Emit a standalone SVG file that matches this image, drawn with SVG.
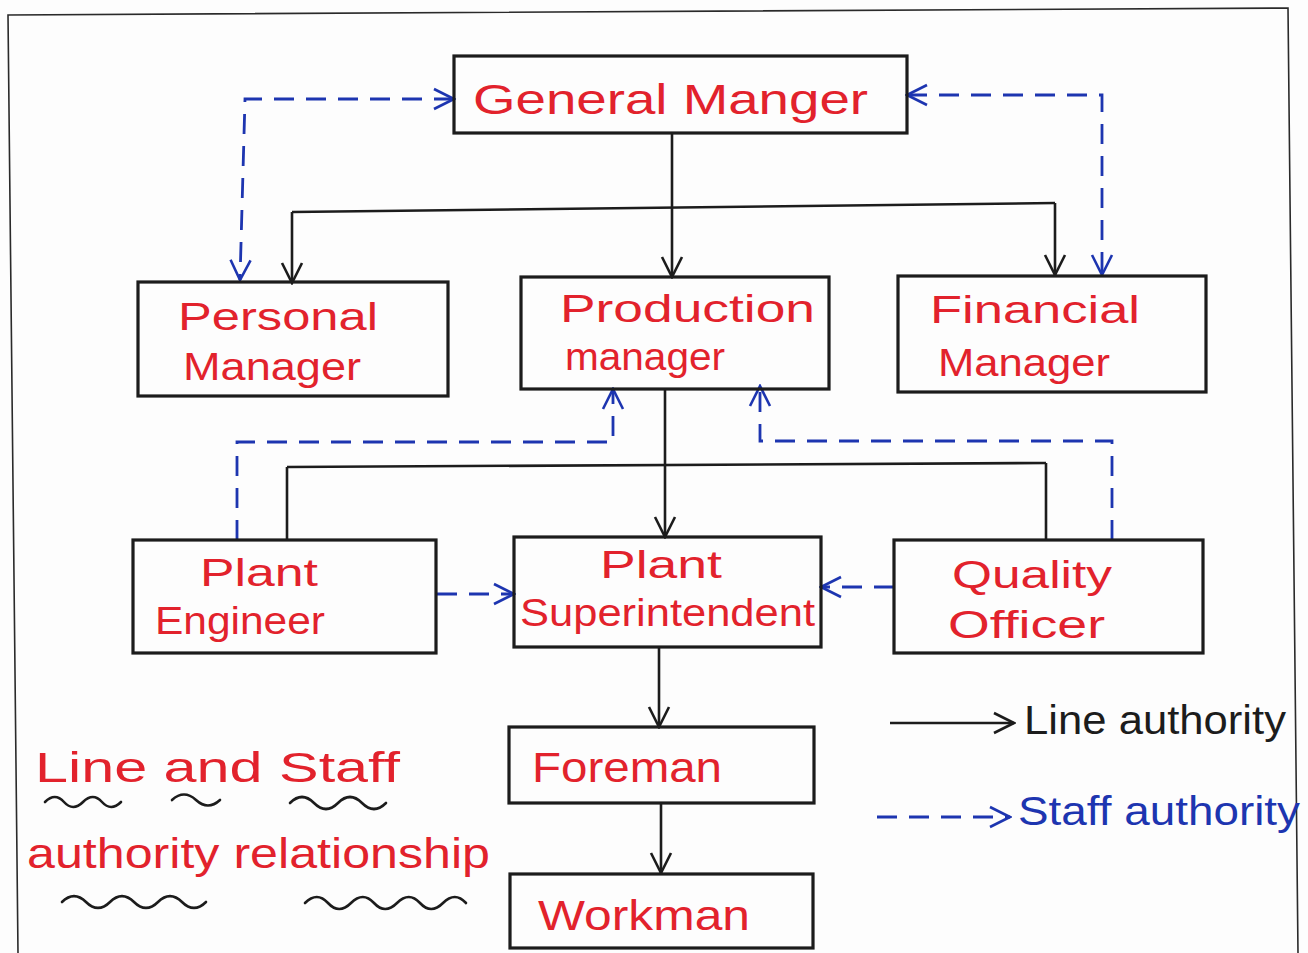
<svg xmlns="http://www.w3.org/2000/svg" width="1308" height="953" viewBox="0 0 1308 953">
  <style>
    .box { fill: none; stroke: #1c1c1c; stroke-width: 3.2; stroke-linejoin: miter; }
    .line { fill: none; stroke: #1c1c1c; stroke-width: 2.6; }
    .staff { fill: none; stroke: #1d35b0; stroke-width: 2.8; stroke-dasharray: 20 12; }
    .wave { fill: none; stroke: #1c1c1c; stroke-width: 2.6; stroke-linecap: round; }
    .lbl { font-family: "Liberation Sans", Arial, sans-serif; font-size: 42px; fill: #e2222c; }
    .sm { font-size: 38px; }
    .lgd { font-family: "Liberation Sans", Arial, sans-serif; font-size: 40px; }
  </style>
  <defs>
    <marker id="arrowLine" viewBox="0 0 12 12" refX="11" refY="6" markerWidth="24" markerHeight="24" orient="auto-start-reverse" markerUnits="userSpaceOnUse">
      <path d="M1,1 L11,6 L1,11" fill="none" stroke="#1c1c1c" stroke-width="1.3"/>
    </marker>
    <marker id="arrowStaff" viewBox="0 0 12 12" refX="11" refY="6" markerWidth="24" markerHeight="24" orient="auto-start-reverse" markerUnits="userSpaceOnUse">
      <path d="M1,1 L11,6 L1,11" fill="none" stroke="#1d35b0" stroke-width="1.3"/>
    </marker>
  </defs>

  <rect width="1308" height="953" fill="#fdfdfd"/>
  <!-- page frame -->
  <path d="M18,953 L8,15 L1288,8 L1298,953" fill="none" stroke="#2a2a2a" stroke-width="1.6"/>

  <!-- connectors -->
  <g id="connectors">
    <!-- line authority -->
    <path class="line" d="M672,133 V207"/>
    <path class="line" d="M292,212 L1055,203"/>
    <path class="line" d="M292,212 V283" marker-end="url(#arrowLine)"/>
    <path class="line" d="M672,207 V277" marker-end="url(#arrowLine)"/>
    <path class="line" d="M1055,203 V275" marker-end="url(#arrowLine)"/>
    <path class="line" d="M665,390 V464"/>
    <path class="line" d="M287,467 L1046,463"/>
    <path class="line" d="M287,467 V540"/>
    <path class="line" d="M665,464 V537" marker-end="url(#arrowLine)"/>
    <path class="line" d="M1046,463 V540"/>
    <path class="line" d="M659,647 V727" marker-end="url(#arrowLine)"/>
    <path class="line" d="M661,803 V873" marker-end="url(#arrowLine)"/>

    <!-- staff authority -->
    <path class="staff" d="M454,99 H245 L240,280" marker-start="url(#arrowStaff)" marker-end="url(#arrowStaff)"/>
    <path class="staff" d="M907,95 H1102 V275" marker-start="url(#arrowStaff)" marker-end="url(#arrowStaff)"/>
    <path class="staff" d="M237,540 V442 H613 V389" marker-end="url(#arrowStaff)"/>
    <path class="staff" d="M1112,540 V441 H760 V386" marker-end="url(#arrowStaff)"/>
    <path class="staff" d="M437,594 H514" marker-end="url(#arrowStaff)"/>
    <path class="staff" d="M894,587 H821" marker-end="url(#arrowStaff)"/>
  </g>

  <!-- nodes -->
  <g id="general-manager">
    <rect class="box" x="454" y="56" width="453" height="77"/>
    <text class="lbl" x="473" y="114" textLength="395" lengthAdjust="spacingAndGlyphs">General Manger</text>
  </g>
  <g id="personal-manager">
    <rect class="box" x="138" y="282" width="310" height="114"/>
    <text class="lbl sm" x="178" y="330" textLength="200" lengthAdjust="spacingAndGlyphs">Personal</text>
    <text class="lbl sm" x="183" y="380" textLength="178" lengthAdjust="spacingAndGlyphs">Manager</text>
  </g>
  <g id="production-manager">
    <rect class="box" x="521" y="277" width="308" height="112"/>
    <text class="lbl sm" x="560" y="322" textLength="255" lengthAdjust="spacingAndGlyphs">Production</text>
    <text class="lbl sm" x="565" y="370" textLength="160" lengthAdjust="spacingAndGlyphs">manager</text>
  </g>
  <g id="financial-manager">
    <rect class="box" x="898" y="276" width="308" height="116"/>
    <text class="lbl sm" x="930" y="323" textLength="210" lengthAdjust="spacingAndGlyphs">Financial</text>
    <text class="lbl sm" x="938" y="376" textLength="172" lengthAdjust="spacingAndGlyphs">Manager</text>
  </g>
  <g id="plant-engineer">
    <rect class="box" x="133" y="540" width="303" height="113"/>
    <text class="lbl sm" x="200" y="586" textLength="118" lengthAdjust="spacingAndGlyphs">Plant</text>
    <text class="lbl sm" x="155" y="634" textLength="170" lengthAdjust="spacingAndGlyphs">Engineer</text>
  </g>
  <g id="plant-superintendent">
    <rect class="box" x="514" y="537" width="307" height="110"/>
    <text class="lbl sm" x="600" y="578" textLength="122" lengthAdjust="spacingAndGlyphs">Plant</text>
    <text class="lbl sm" x="520" y="626" textLength="295" lengthAdjust="spacingAndGlyphs">Superintendent</text>
  </g>
  <g id="quality-officer">
    <rect class="box" x="894" y="540" width="309" height="113"/>
    <text class="lbl sm" x="952" y="588" textLength="160" lengthAdjust="spacingAndGlyphs">Quality</text>
    <text class="lbl sm" x="948" y="638" textLength="157" lengthAdjust="spacingAndGlyphs">Officer</text>
  </g>
  <g id="foreman">
    <rect class="box" x="509" y="727" width="305" height="76"/>
    <text class="lbl" x="532" y="782" textLength="190" lengthAdjust="spacingAndGlyphs">Foreman</text>
  </g>
  <g id="workman">
    <rect class="box" x="510" y="874" width="303" height="74"/>
    <text class="lbl" x="538" y="930" textLength="212" lengthAdjust="spacingAndGlyphs">Workman</text>
  </g>

  <!-- title -->
  <g id="title">
    <text class="lbl" x="35" y="782" textLength="365" lengthAdjust="spacingAndGlyphs">Line and Staff</text>
    <text class="lbl" x="27" y="868" textLength="463" lengthAdjust="spacingAndGlyphs">authority relationship</text>
    <path class="wave" d="M45,802 q10,-10 19,0 t19,0 t19,0 t19,0"/>
    <path class="wave" d="M172,800 q12,-11 24,0 t24,0"/>
    <path class="wave" d="M290,803 q12,-12 24,0 t24,0 t24,0 t24,0"/>
    <path class="wave" d="M62,902 q12,-12 24,0 t24,0 t24,0 t24,0 t24,0 t24,0"/>
    <path class="wave" d="M305,903 q12,-12 23,0 t23,0 t23,0 t23,0 t23,0 t23,0 t23,0"/>
  </g>

  <!-- legend -->
  <g id="legend">
    <path class="line" d="M890,723 H1014" marker-end="url(#arrowLine)"/>
    <text class="lgd" x="1024" y="734" fill="#1c1c1c" textLength="262" lengthAdjust="spacingAndGlyphs">Line authority</text>
    <path class="staff" d="M877,817 H1010" stroke-dasharray="14 9" marker-end="url(#arrowStaff)"/>
    <text class="lgd" x="1018" y="825" fill="#1d35b0" textLength="282" lengthAdjust="spacingAndGlyphs">Staff authority</text>
  </g>
</svg>
